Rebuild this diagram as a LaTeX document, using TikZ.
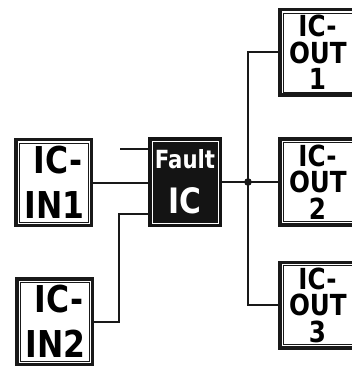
\documentclass[tikz,border=0pt]{standalone}
\usepackage{fontspec}
\usepackage{tikz}
\usetikzlibrary{positioning}
\newfontfamily\chipfont[FakeStretch=0.85]{DejaVu Sans}
\definecolor{wireC}{RGB}{25,25,25}
\definecolor{faultC}{RGB}{20,20,20}

\begin{document}
\begin{tikzpicture}[x=1pt,y=-1pt,
    chipbox/.style={draw=wireC,line width=3.5pt,fill=white,inner sep=0pt,
      minimum width=75.5pt,minimum height=85.5pt},
    inlabel/.style={font=\chipfont\bfseries\fontsize{37}{45}\selectfont,
      text width=58pt,align=right},
    outlabel/.style={font=\chipfont\bfseries\fontsize{29}{26.5}\selectfont,
      text width=57pt,align=center},
    wire/.style={draw=wireC,line width=2pt}]
  \useasboundingbox (0,0) rectangle (352,366);
  % input chips
  \node[chipbox,inlabel] (in1) at (53.5,182.5) {IC-\\IN1};
  \node[chipbox,inlabel] (in2) at (54.5,321.5) {IC-\\IN2};
  % fault chip
  \node[draw=faultC,fill=faultC,line width=3pt,inner sep=0pt,
    minimum width=71pt,minimum height=87pt,text=white,align=center,
    font=\chipfont\bfseries\fontsize{35}{45}\selectfont]
    (fault) at (185,182) {{\fontsize{25}{25}\selectfont Fault}\\IC};
  \draw[white,line width=0.8pt] ([shift={(4,4)}]fault.north west)
    rectangle ([shift={(-4,-4)}]fault.south east);
  % output chips
  \node[chipbox,outlabel] (out1) at (317.5,52.5) {IC-\hspace*{\fill}\\OUT\\1};
  \node[chipbox,outlabel] (out2) at (317.5,182) {IC-\hspace*{\fill}\\OUT\\2};
  \node[chipbox,outlabel] (out3) at (317.5,305) {IC-\hspace*{\fill}\\OUT\\3};
  % thin inner frame of the white chips
  \foreach \n in {in1,in2,out1,out2,out3}{
    \draw[wireC,line width=0.7pt] ([shift={(5,5)}]\n.north west)
      rectangle ([shift={(-5,-5)}]\n.south east);
  }
  % wiring
  \coordinate (stub) at (120,149);
  \coordinate (bend) at (119,214);
  \coordinate (jn) at (248,182);
  \draw[wire] (in1.east) -- (in1.east -| fault.west);
  \draw[wire] (stub) -- (stub -| fault.west);
  \draw[wire] (in2.east) -| (bend) -- (bend -| fault.west);
  \draw[wire] (fault.east) -- (jn);
  \draw[wire] (out1.west) -| (jn) |- (out3.west);
  \draw[wire] (jn) -- (out2.west);
  \fill[wireC] (jn) circle (3.8pt);
\end{tikzpicture}
\end{document}
